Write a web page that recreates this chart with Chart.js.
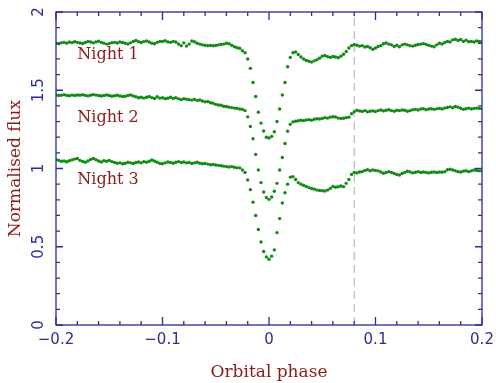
<!DOCTYPE html>
<html>
<head>
    <title>Eclipse light curves</title>
    <script src="https://cdn.jsdelivr.net/npm/chart.js"></script>
    <style>
        body { margin: 0; background: #fff; }
    </style>
</head>
<body>
    <canvas id="lcChart" width="496" height="383"></canvas>
    <script>
        // orbital phase of each sample
        const phase = [
            -0.2,-0.1975,-0.195,-0.1925,-0.19,-0.1875,-0.185,-0.1825,-0.18,-0.1775,
            -0.175,-0.1725,-0.17,-0.1675,-0.165,-0.1625,-0.16,-0.1575,-0.155,-0.1525,
            -0.15,-0.1475,-0.145,-0.1425,-0.14,-0.1375,-0.135,-0.1325,-0.13,-0.1275,
            -0.125,-0.1225,-0.12,-0.1175,-0.115,-0.1125,-0.11,-0.1075,-0.105,-0.1025,
            -0.1,-0.0975,-0.095,-0.0925,-0.09,-0.0875,-0.085,-0.0825,-0.08,-0.0775,
            -0.075,-0.0725,-0.07,-0.0675,-0.065,-0.0625,-0.06,-0.0575,-0.055,-0.0525,
            -0.05,-0.0475,-0.045,-0.0425,-0.04,-0.0375,-0.035,-0.0325,-0.03,-0.0275,
            -0.025,-0.0225,-0.02,-0.0175,-0.015,-0.0125,-0.01,-0.0075,-0.005,-0.0025,
            0,
            0.0025,0.005,0.0075,0.01,0.0125,0.015,0.0175,0.02,0.0225,0.025,
            0.0275,0.03,0.0325,0.035,0.0375,0.04,0.0425,0.045,0.0475,0.05,
            0.0525,0.055,0.0575,0.06,0.0625,0.065,0.0675,0.07,0.0725,0.075,
            0.0775,0.08,0.0825,0.085,0.0875,0.09,0.0925,0.095,0.0975,0.1,
            0.1025,0.105,0.1075,0.11,0.1125,0.115,0.1175,0.12,0.1225,0.125,
            0.1275,0.13,0.1325,0.135,0.1375,0.14,0.1425,0.145,0.1475,0.15,
            0.1525,0.155,0.1575,0.16,0.1625,0.165,0.1675,0.17,0.1725,0.175,
            0.1775,0.18,0.1825,0.185,0.1875,0.19,0.1925,0.195,0.1975,0.2
        ];

        const night1 = [
            1.800,1.797,1.803,1.806,1.801,1.808,1.804,1.810,1.806,1.802,
            1.799,1.805,1.812,1.808,1.803,1.809,1.813,1.806,1.801,1.795,
            1.798,1.804,1.806,1.802,1.808,1.805,1.800,1.796,1.803,1.812,
            1.818,1.810,1.805,1.811,1.815,1.808,1.800,1.797,1.806,1.812,
            1.812,1.816,1.809,1.806,1.812,1.808,1.796,1.785,1.803,1.782,
            1.795,1.815,1.810,1.800,1.795,1.790,1.788,1.785,1.787,1.784,
            1.786,1.790,1.793,1.795,1.800,1.797,1.788,1.778,1.772,1.768,
            1.752,1.740,1.700,1.640,1.550,1.460,1.360,1.290,1.240,1.200,
            1.195,
            1.205,1.235,1.300,1.380,1.470,1.550,1.650,1.710,1.740,1.745,
            1.728,1.712,1.700,1.690,1.685,1.680,1.688,1.695,1.705,1.718,
            1.722,1.715,1.710,1.716,1.712,1.708,1.718,1.730,1.748,1.770,
            1.785,1.792,1.788,1.782,1.785,1.776,1.780,1.772,1.762,1.770,
            1.780,1.785,1.797,1.802,1.795,1.790,1.780,1.788,1.778,1.790,
            1.795,1.790,1.785,1.782,1.788,1.792,1.795,1.798,1.793,1.787,
            1.782,1.778,1.790,1.800,1.796,1.805,1.812,1.808,1.822,1.826,
            1.818,1.824,1.812,1.820,1.810,1.812,1.808,1.815,1.812,1.810
        ];

        const night2 = [
            1.470,1.466,1.468,1.472,1.467,1.465,1.469,1.466,1.470,1.468,
            1.471,1.467,1.464,1.468,1.472,1.469,1.466,1.463,1.467,1.470,
            1.466,1.462,1.465,1.468,1.463,1.460,1.462,1.466,1.470,1.464,
            1.458,1.452,1.455,1.450,1.455,1.460,1.453,1.447,1.458,1.450,
            1.452,1.446,1.449,1.455,1.448,1.452,1.445,1.440,1.446,1.443,
            1.440,1.437,1.442,1.435,1.438,1.431,1.426,1.428,1.420,1.417,
            1.410,1.406,1.404,1.398,1.396,1.392,1.389,1.386,1.384,1.380,
            1.378,1.370,1.330,1.268,1.190,1.090,0.990,0.910,0.850,0.815,
            0.803,
            0.818,0.855,0.905,0.990,1.070,1.160,1.238,1.282,1.298,1.302,
            1.305,1.308,1.306,1.310,1.312,1.309,1.315,1.318,1.316,1.320,
            1.325,1.322,1.328,1.331,1.329,1.322,1.320,1.321,1.325,1.328,
            1.350,1.362,1.372,1.368,1.365,1.370,1.362,1.366,1.368,1.364,
            1.370,1.374,1.368,1.372,1.375,1.370,1.366,1.372,1.370,1.374,
            1.372,1.366,1.370,1.375,1.378,1.374,1.380,1.382,1.376,1.380,
            1.382,1.378,1.381,1.384,1.380,1.386,1.390,1.394,1.388,1.396,
            1.392,1.385,1.378,1.382,1.386,1.380,1.384,1.386,1.384,1.382
        ];

        const night3 = [
            1.058,1.052,1.046,1.048,1.043,1.050,1.055,1.060,1.064,1.052,
            1.045,1.040,1.048,1.058,1.064,1.056,1.048,1.042,1.050,1.046,
            1.052,1.044,1.038,1.034,1.036,1.030,1.034,1.040,1.036,1.032,
            1.038,1.042,1.036,1.044,1.040,1.046,1.054,1.048,1.040,1.032,
            1.030,1.036,1.042,1.038,1.034,1.040,1.044,1.038,1.042,1.036,
            1.038,1.032,1.036,1.040,1.034,1.030,1.032,1.028,1.024,1.026,
            1.022,1.020,1.018,1.015,1.012,1.010,1.012,1.008,1.004,1.004,
            0.990,0.975,0.927,0.865,0.785,0.700,0.610,0.530,0.470,0.435,
            0.420,
            0.440,0.480,0.590,0.680,0.780,0.845,0.900,0.945,0.948,0.930,
            0.910,0.900,0.893,0.885,0.878,0.872,0.868,0.862,0.860,0.858,
            0.856,0.862,0.872,0.885,0.880,0.883,0.888,0.884,0.905,0.930,
            0.962,0.975,0.972,0.978,0.980,0.988,0.992,0.986,0.990,0.988,
            0.985,0.978,0.970,0.974,0.980,0.975,0.968,0.962,0.958,0.968,
            0.975,0.982,0.978,0.972,0.976,0.980,0.974,0.978,0.975,0.972,
            0.976,0.978,0.974,0.978,0.976,0.980,0.992,0.995,0.990,0.985,
            0.980,0.978,0.983,0.986,0.980,0.985,0.990,0.988,0.985,0.986
        ];

        const markPhase = 0.08;
        const nightNames = ['Night 1', 'Night 2', 'Night 3'];
        const nightLabelPos = [[-0.18, 1.70], [-0.18, 1.30], [-0.18, 0.90]];
        const xTicks = [-0.2, -0.1, 0, 0.1, 0.2];
        const yTicks = [0, 0.5, 1, 1.5, 2];
        const xTickText = ['\u22120.2', '\u22120.1', '0', '0.1', '0.2'];
        const yTickText = ['0', '0.5', '1', '1.5', '2'];

        const axisBlue = '#2c2c9c';
        const titleRed = '#8b1a1a';
        const dotGreen = '#128a12';

        function pts(ys) {
            return phase.map((x, i) => ({ x: x, y: ys[i] }));
        }

        const decor = {
            id: 'decor',
            afterDraw(chart) {
                const { ctx, chartArea: a } = chart;
                const x = chart.scales.x, y = chart.scales.y;
                ctx.save();
                ctx.strokeStyle = axisBlue;
                ctx.lineWidth = 1.3;
                ctx.strokeRect(a.left, a.top, a.right - a.left, a.bottom - a.top);

                // inward ticks on all four sides
                ctx.beginPath();
                for (let k = 0; k <= 20; k++) {
                    const px = x.getPixelForValue(-0.2 + k * 0.02);
                    const len = k % 5 === 0 ? 8 : 4;
                    ctx.moveTo(px, a.bottom); ctx.lineTo(px, a.bottom - len);
                    ctx.moveTo(px, a.top); ctx.lineTo(px, a.top + len);
                }
                for (let k = 0; k <= 20; k++) {
                    const py = y.getPixelForValue(k * 0.1);
                    const len = k % 5 === 0 ? 7 : 4;
                    ctx.moveTo(a.left, py); ctx.lineTo(a.left + len, py);
                    ctx.moveTo(a.right, py); ctx.lineTo(a.right - len, py);
                }
                ctx.stroke();

                // tick labels
                ctx.fillStyle = axisBlue;
                ctx.font = '15px "DejaVu Sans"';
                ctx.textAlign = 'center';
                ctx.textBaseline = 'middle';
                xTicks.forEach((v, i) => {
                    ctx.fillText(xTickText[i], x.getPixelForValue(v), a.bottom + 15);
                });
                yTicks.forEach((v, i) => {
                    ctx.save();
                    ctx.translate(a.left - 17, y.getPixelForValue(v));
                    ctx.rotate(-Math.PI / 2);
                    ctx.fillText(yTickText[i], 0, 0);
                    ctx.restore();
                });

                // night labels
                ctx.fillStyle = titleRed;
                ctx.font = '16px "DejaVu Serif"';
                ctx.textAlign = 'left';
                ctx.textBaseline = 'alphabetic';
                nightNames.forEach((t, i) => {
                    const p = nightLabelPos[i];
                    ctx.fillText(t, x.getPixelForValue(p[0]), y.getPixelForValue(p[1]));
                });
                ctx.restore();
            }
        };

        const ctx = document.getElementById('lcChart').getContext('2d');
        const dot = { showLine: false, pointRadius: 1.7, pointBorderWidth: 0,
                      backgroundColor: dotGreen, borderColor: dotGreen, order: 1 };

        new Chart(ctx, {
            type: 'scatter',
            data: {
                datasets: [
                    Object.assign({ label: nightNames[0], data: pts(night1) }, dot),
                    Object.assign({ label: nightNames[1], data: pts(night2) }, dot),
                    Object.assign({ label: nightNames[2], data: pts(night3) }, dot),
                    {
                        label: 'mark',
                        data: [{ x: markPhase, y: 0 }, { x: markPhase, y: 2 }],
                        showLine: true,
                        pointRadius: 0,
                        borderColor: '#aaaaaa',
                        borderWidth: 1,
                        borderDash: [8, 5],
                        order: 10
                    }
                ]
            },
            options: {
                responsive: false,
                animation: false,
                devicePixelRatio: 1,
                layout: { padding: { left: 0, right: 14, top: 12, bottom: 0 } },
                plugins: { legend: { display: false }, tooltip: { enabled: false } },
                scales: {
                    x: {
                        type: 'linear', min: -0.2, max: 0.2,
                        grid: { display: false }, border: { display: false },
                        ticks: { display: false },
                        title: { display: true, text: 'Orbital phase', color: titleRed,
                                 font: { family: 'DejaVu Serif', size: 17 }, padding: 0 },
                        afterFit(s) { s.height = 58; }
                    },
                    y: {
                        min: 0, max: 2,
                        grid: { display: false }, border: { display: false },
                        ticks: { display: false },
                        title: { display: true, text: 'Normalised flux', color: titleRed,
                                 font: { family: 'DejaVu Serif', size: 17 }, padding: { top: 5, bottom: 0 } },
                        afterFit(s) { s.width = 56; }
                    }
                }
            },
            plugins: [decor]
        });
    </script>
</body>
</html>
